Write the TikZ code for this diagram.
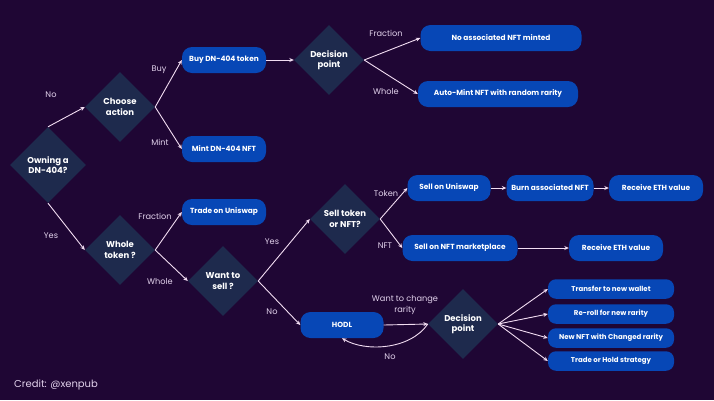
\documentclass[tikz,border=0pt]{standalone}
\usepackage{fontspec}
\setmainfont{Poppins}
\usetikzlibrary{shapes.geometric,arrows.meta}
\definecolor{bgc}{HTML}{1F0634}
\definecolor{diac}{HTML}{1E2A4D}
\definecolor{boxc}{HTML}{0747B6}
\definecolor{arrc}{HTML}{F2DDF2}
\definecolor{lblc}{HTML}{E2D2EC}
\begin{document}
\begin{tikzpicture}[x=1pt,y=-1pt,
 dia/.style={diamond,fill=diac,text=white,font=\bfseries\fontsize{8.5}{10.5}\selectfont,align=center,inner sep=0pt,minimum size=70pt,aspect=1},
 box/.style={rectangle,rounded corners=10pt,fill=boxc,text=white,font=\bfseries\fontsize{7.4}{9}\selectfont,minimum height=26pt,inner sep=0pt},
 sbox/.style={box,rounded corners=8pt,minimum height=19.5pt,minimum width=126pt,font=\bfseries\fontsize{7}{8}\selectfont},
 lbl/.style={text=lblc,font=\fontsize{8.2}{11}\selectfont,inner sep=0pt,align=center},
 arr/.style={draw=arrc,line width=0.9pt,-{Stealth[length=4.5pt,width=4pt]}}]
\fill[bgc] (0,0) rectangle (714,400);
\useasboundingbox (0,0) rectangle (714,400);
% diamonds
\node[dia,minimum size=76pt] (own) at (48,165) {Owning a\\DN-404?};
\node[dia] (choose) at (120,107) {Choose\\action};
\node[dia] (dp1) at (329,60) {Decision\\point};
\node[dia] (whole) at (120,250) {Whole\\token ?};
\node[dia] (want) at (223,281) {Want to\\sell ?};
\node[dia] (sell) at (345,219) {Sell token\\or NFT?};
\node[dia] (dp2) at (463,324) {Decision\\point};
% boxes
\node[box,minimum width=84pt] (buy) at (224,60) {Buy DN-404 token};
\node[box,minimum width=84pt] (mint) at (224,149) {Mint DN-404 NFT};
\node[box,minimum width=161pt] (noassoc) at (501,38) {No associated NFT minted};
\node[box,minimum width=160pt] (auto) at (498,94) {Auto-Mint NFT with random rarity};
\node[box,minimum width=84pt] (trade) at (224,212) {Trade on Uniswap};
\node[box,minimum width=83pt] (uni) at (449,188) {Sell on Uniswap};
\node[box,minimum width=87pt] (burn) at (550,188) {Burn associated NFT};
\node[box,minimum width=94pt] (eth1) at (656,188) {Receive ETH value};
\node[box,minimum width=115pt] (mkt) at (460,248) {Sell on NFT marketplace};
\node[box,minimum width=94pt] (eth2) at (616,248) {Receive ETH value};
\node[box,minimum width=83pt] (hodl) at (342,325) {HODL};
\node[sbox] (t1) at (611,289) {Transfer to new wallet};
\node[sbox] (t2) at (611,314) {Re-roll for new rarity};
\node[sbox] (t3) at (611,338) {New NFT with Changed rarity};
\node[sbox] (t4) at (611,361) {Trade or Hold strategy};
% labels
\node[lbl] at (51,95) {No};
\node[lbl] at (51,236) {Yes};
\node[lbl] at (159,70) {Buy};
\node[lbl] at (160,142) {Mint};
\node[lbl] at (386,33) {Fraction};
\node[lbl] at (386,91) {Whole};
\node[lbl] at (155,216) {Fraction};
\node[lbl] at (160,281) {Whole};
\node[lbl] at (272,242) {Yes};
\node[lbl] at (272,312) {No};
\node[lbl] at (386,193) {Token};
\node[lbl] at (385,246) {NFT};
\node[lbl] at (405,305) {Want to change\\rarity};
\node[lbl] at (390,357) {No};
\node[text=lblc,font=\fontsize{10}{12}\selectfont,anchor=west,inner sep=0pt] (credit) at (14,385) {Credit: @xenpub};
% arrows
\draw[arr] (own.north) -- (choose.west);
\draw[arr] (own.south) -- (whole.west);
\draw[arr] (choose.east) -- (buy.west);
\draw[arr] (choose.east) -- (mint.west);
\draw[arr] (buy.east) -- (dp1.west);
\draw[arr] (dp1.east) -- (noassoc.west);
\draw[arr] (dp1.east) -- (auto.west);
\draw[arr] (whole.east) -- (trade.west);
\draw[arr] (whole.east) -- (want.west);
\draw[arr] (want.east) -- (sell.west);
\draw[arr] (want.east) -- (hodl.west);
\draw[arr] (sell.east) -- (uni.west);
\draw[arr] (sell.east) -- (mkt.west);
\draw[arr] (uni.east) -- (burn.west);
\draw[arr] (burn.east) -- (eth1.west);
\draw[arr] (mkt.east) -- (eth2.west);
\draw[arr] (hodl.east) -- (dp2.west);
\draw[arr] (dp2.west) .. controls (410,350) and (365,352) .. (hodl.south);
\draw[arr] (dp2.east) -- (t1.west);
\draw[arr] (dp2.east) -- (t2.west);
\draw[arr] (dp2.east) -- (t3.west);
\draw[arr] (dp2.east) -- (t4.west);
\end{tikzpicture}
\end{document}
